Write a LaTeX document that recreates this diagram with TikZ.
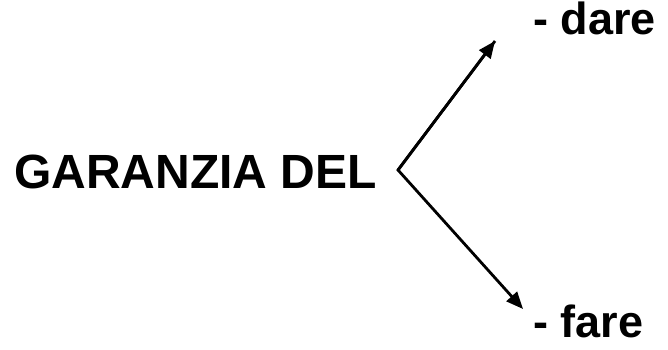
\documentclass[tikz,border=0pt]{standalone}
\usepackage{fontspec}
\setmainfont{Liberation Sans}
\usetikzlibrary{arrows.meta}
\begin{document}
\begin{tikzpicture}[x=1pt,y=-1pt,
  lbl/.style={font=\bfseries\fontsize{48}{52}\selectfont, anchor=base west, inner sep=0pt},
  sml/.style={font=\bfseries\fontsize{45}{49}\selectfont, anchor=base west, inner sep=0pt},
  arr/.style={line width=2.8pt, -{Triangle[length=17pt,width=14pt]}}]
\useasboundingbox (0,0) rectangle (668,350);
\node[lbl] (g) at (14,188) {GARANZIA DEL};
\node[sml] (d) at (533,35) {- dare};
\node[sml] (f) at (533,337) {- fare};
\coordinate (v) at (398,170);
\coordinate (t1) at (495,41);
\coordinate (t2) at (523,309);
\draw[arr, line join=miter] (t1) -- (v) -- (t2);
\draw[arr] (v) -- (t1);
\end{tikzpicture}
\end{document}
